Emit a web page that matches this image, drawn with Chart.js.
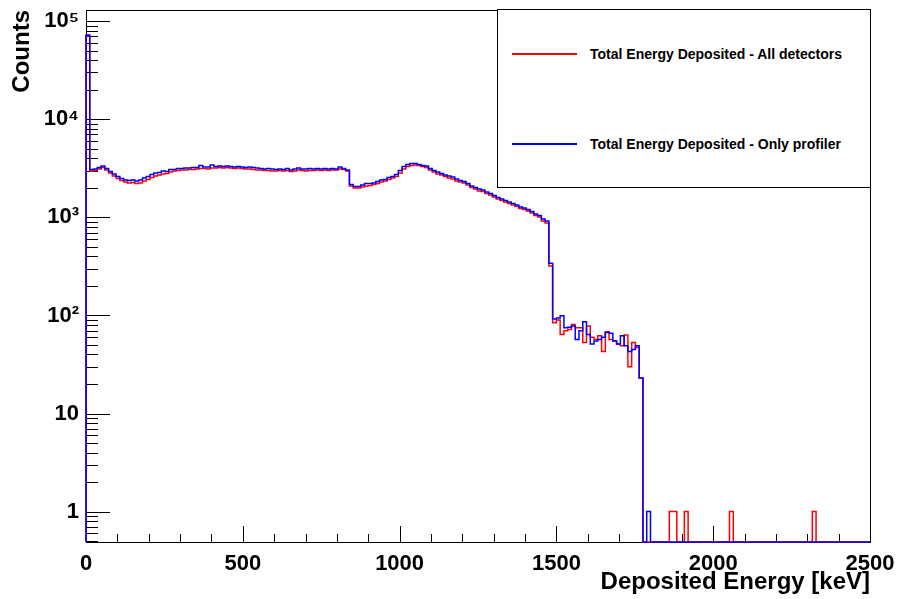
<!DOCTYPE html>
<html lang="en">

<head>
  <meta charset="UTF-8" />
  <title>Deposited energy spectrum</title>
  <style>
    body {
      margin: 0;
      background: #fff;
    }

    #wrap {
      position: relative;
      width: 901px;
      height: 599px;
    }

    #legend {
      position: absolute;
      left: 497px;
      top: 9px;
      width: 372px;
      height: 177px;
      border: 1px solid #000;
      background: #fff;
      font: bold 14px "Liberation Sans", Arial, sans-serif;
      color: #000;
    }

    #legend .entry {
      position: absolute;
      left: 0;
      height: 20px;
      line-height: 20px;
      white-space: nowrap;
    }

    #legend .swatch {
      position: absolute;
      left: 14px;
      top: 9px;
      width: 65px;
      height: 2px;
    }

    #legend .text {
      position: absolute;
      left: 92px;
    }
  </style>
  <script src="https://cdn.jsdelivr.net/npm/chart.js"></script>
</head>

<body>
  <div id="wrap">
    <canvas id="chart" width="901" height="599"></canvas>
    <div id="legend"></div>
  </div>
</body>

</html>
<script>
  // histogram: 12 keV bins starting at 0
  const binWidth = 12
  const seriesNames = ['Total Energy Deposited - All detectors', 'Total Energy Deposited - Only profiler']

  // counts per bin, one line = 10 bins
  const allDetectors = [
    71200, 2968, 3004, 3111, 3223, 3039, 2831, 2639, 2489, 2374,
    2292, 2239, 2265, 2213, 2239, 2347, 2431, 2548, 2639, 2702,
    2766, 2799, 2899, 2968, 3004, 3039, 3039, 3075, 3075, 3111,
    3148, 3148, 3111, 3185, 3185, 3223, 3185, 3223, 3185, 3148,
    3185, 3148, 3111, 3111, 3075, 3039, 3039, 3004, 3004, 2968,
    2968, 3004, 2968, 3004, 2934, 2968, 3039, 3004, 2968, 3004,
    3004, 3039, 3004, 3039, 3004, 3039, 3039, 3111, 3075, 2968,
    2087, 1991, 1991, 2038, 2087, 2111, 2161, 2213, 2292, 2347,
    2431, 2518, 2609, 2831, 3111, 3299, 3378, 3418, 3378, 3299,
    3223, 3039, 2899, 2766, 2702, 2609, 2518, 2459, 2347, 2292,
    2239, 2136, 2014, 1945, 1855, 1834, 1749, 1689, 1611, 1537,
    1484, 1432, 1383, 1335, 1289, 1229, 1201, 1159, 1106, 1043,
    1007, 917, 874, 320, 84, 90, 64, 70, 72, 81,
    75, 75, 53, 78, 60, 57, 62, 43, 68, 57,
    55, 51, 49, 63, 30, 53, 47, 23, 0, 0,
    0, 0, 0, 0, 0, 1, 1, 0, 0, 1,
    0, 0, 0, 0, 0, 0, 0, 0, 0, 0,
    0, 1, 0, 0, 0, 0, 0, 0, 0, 0,
    0, 0, 0, 0, 0, 0, 0, 0, 0, 0,
    0, 0, 0, 1, 0, 0, 0, 0, 0, 0,
    0, 0, 0, 0, 0, 0, 0, 0, 0
  ]

  const onlyProfiler = [
    72400, 3075, 3111, 3223, 3338, 3148, 2934, 2766, 2609, 2489,
    2402, 2374, 2402, 2347, 2402, 2518, 2609, 2734, 2831, 2866,
    2968, 2934, 3075, 3075, 3148, 3148, 3185, 3185, 3223, 3223,
    3378, 3261, 3261, 3418, 3299, 3338, 3299, 3338, 3299, 3261,
    3299, 3261, 3223, 3261, 3223, 3185, 3148, 3111, 3148, 3111,
    3075, 3111, 3075, 3148, 3039, 3111, 3185, 3111, 3111, 3148,
    3111, 3148, 3111, 3148, 3111, 3148, 3111, 3261, 3148, 3039,
    2161, 2062, 2062, 2136, 2213, 2213, 2239, 2319, 2402, 2431,
    2548, 2609, 2734, 3004, 3299, 3458, 3540, 3540, 3458, 3378,
    3338, 3148, 3004, 2899, 2799, 2702, 2639, 2578, 2459, 2374,
    2319, 2213, 2087, 2014, 1945, 1899, 1812, 1749, 1669, 1592,
    1537, 1484, 1432, 1383, 1335, 1274, 1244, 1201, 1146, 1081,
    1043, 961, 917, 340, 92, 94, 99, 75, 76, 78,
    57, 70, 86, 64, 51, 55, 57, 60, 67, 66,
    55, 51, 62, 49, 43, 45, 49, 23, 0, 1,
    0, 0, 0, 0, 0, 0, 0, 0, 0, 0,
    0, 0, 0, 0, 0, 0, 0, 0, 0, 0,
    0, 0, 0, 0, 0, 0, 0, 0, 0, 0,
    0, 0, 0, 0, 0, 0, 0, 0, 0, 0,
    0, 0, 0, 0, 0, 0, 0, 0, 0, 0,
    0, 0, 0, 0, 0, 0, 0, 0, 0
  ]

  const xTickStep = 500
  const yTickValues = [1, 10, 100, 1000, 10000, 100000]
  const yTickLabels = ['1', '10', '10²', '10³', '10⁴', '10⁵']

  const xMin = 0, xMax = 2500
  const yMin = 0.49, yMax = 130000

  const fontFamily = '"Liberation Sans", Arial, Helvetica, sans-serif'
  const tickFont = { family: fontFamily, size: 22, weight: 'bold' }
  const titleFont = { family: fontFamily, size: 24, weight: 'bold' }

  // turn bin contents into a step outline (empty bins sit on the frame bottom)
  function steps(counts) {
    const pts = [{ x: 0, y: yMin }]
    counts.forEach((c, i) => pts.push({ x: i * binWidth, y: Math.max(c, yMin) }))
    pts.push({ x: Math.min(counts.length * binWidth, xMax), y: Math.max(counts[counts.length - 1], yMin) })
    return pts
  }

  // ROOT-like frame with ticks pointing inwards
  const rootFrame = {
    id: 'rootFrame',
    beforeDatasetsDraw(chart) {
      const { ctx, chartArea: a, scales: { x, y } } = chart
      ctx.save()
      ctx.strokeStyle = '#000'
      ctx.lineWidth = 1
      ctx.beginPath()
      for (let v = xMin; v <= xMax; v += 100) {
        const px = Math.round(x.getPixelForValue(v)) + 0.5
        const len = v % xTickStep === 0 ? 16 : 8
        ctx.moveTo(px, a.bottom)
        ctx.lineTo(px, a.bottom - len)
      }
      for (let e = -1; e <= 5; e++) {
        for (let k = 1; k <= 9; k++) {
          const v = k * Math.pow(10, e)
          if (v < yMin || v > yMax) continue
          const py = Math.round(y.getPixelForValue(v)) + 0.5
          ctx.moveTo(a.left, py)
          ctx.lineTo(a.left + (k === 1 ? 24 : 12), py)
        }
      }
      ctx.stroke()
      ctx.strokeRect(Math.round(a.left) + 0.5, Math.round(a.top) + 0.5, Math.round(a.width), Math.round(a.height))
      ctx.restore()
    }
  }

  const chart = new Chart(document.querySelector('#chart'), {
    type: 'line',
    data: {
      datasets: [{
        label: seriesNames[0],
        data: steps(allDetectors),
        borderColor: '#ff0000',
        order: 1
      }, {
        label: seriesNames[1],
        data: steps(onlyProfiler),
        borderColor: '#0000ff',
        order: 0
      }]
    },
    options: {
      responsive: false,
      animation: false,
      layout: { padding: { left: 0, top: 10, right: 31, bottom: 0 } },
      elements: {
        point: { radius: 0 },
        line: { borderWidth: 1.5, tension: 0 }
      },
      datasets: { line: { clip: false, stepped: 'before' } },
      plugins: {
        legend: { display: false },
        tooltip: { enabled: false }
      },
      scales: {
        x: {
          type: 'linear',
          min: xMin,
          max: xMax,
          afterFit: (s) => { s.height = 57; s.paddingLeft = 0; s.paddingRight = 0 },
          grid: { display: false, drawTicks: false },
          border: { display: false },
          ticks: {
            stepSize: xTickStep,
            padding: 9,
            maxRotation: 0,
            color: '#000',
            font: tickFont,
            callback: (v) => String(v)
          },
          title: {
            display: true,
            text: 'Deposited Energy [keV]',
            align: 'end',
            color: '#000',
            font: titleFont,
            padding: { top: 0, bottom: 2 }
          }
        },
        y: {
          type: 'logarithmic',
          min: yMin,
          max: yMax,
          afterFit: (s) => { s.width = 86; s.paddingTop = 0; s.paddingBottom = 0 },
          afterBuildTicks: (s) => { s.ticks = yTickValues.map(v => ({ value: v })) },
          grid: { display: false, drawTicks: false },
          border: { display: false },
          ticks: {
            padding: 7,
            color: '#000',
            font: tickFont,
            callback: (v, i) => yTickLabels[i]
          },
          title: {
            display: true,
            text: 'Counts',
            align: 'end',
            color: '#000',
            font: titleFont,
            padding: { top: 8, bottom: 0 }
          }
        }
      }
    },
    plugins: [rootFrame]
  })

  // legend box, built from the datasets
  const legendBox = document.querySelector('#legend')
  const rowCenters = [44, 134]
  chart.data.datasets.forEach((ds, i) => {
    const row = document.createElement('div')
    row.className = 'entry'
    row.style.top = (rowCenters[i] - 10) + 'px'
    row.innerHTML = `<span class="swatch" style="background:${ds.borderColor}"></span><span class="text">${ds.label}</span>`
    legendBox.appendChild(row)
  })
</script>
